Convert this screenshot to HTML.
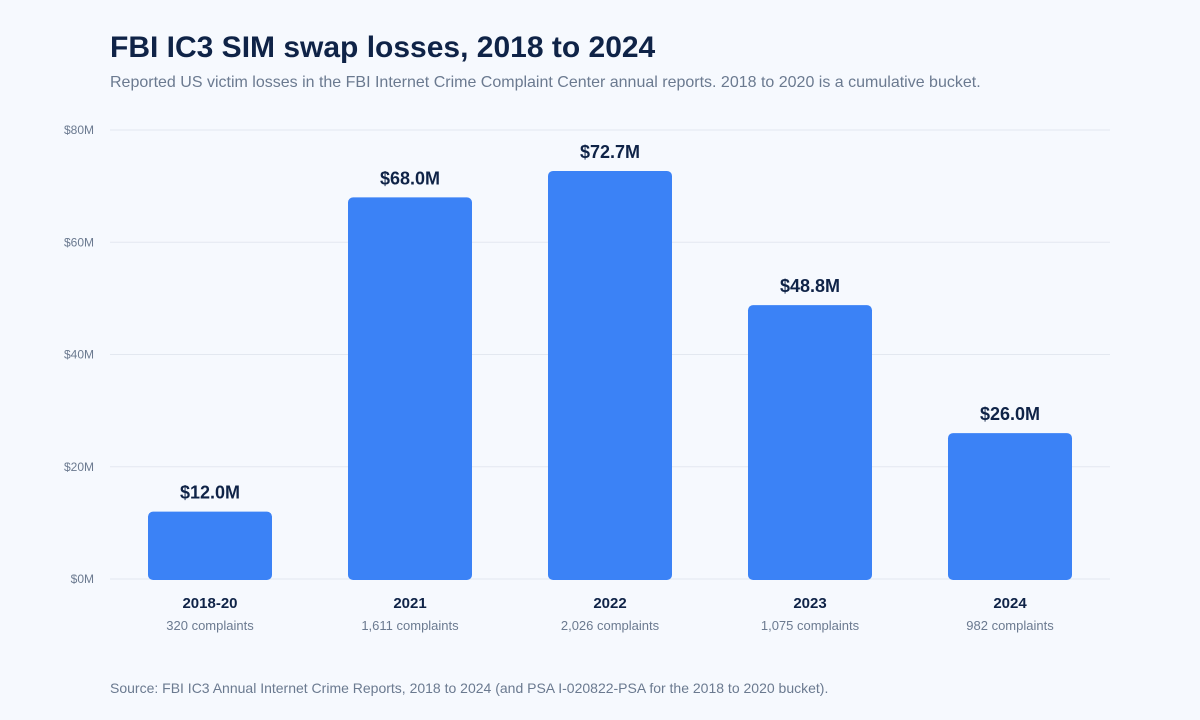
<!DOCTYPE html>
<html><head><meta charset="utf-8"><style>
body{margin:0;background:#f6f9fe;font-family:"Liberation Sans",Arial,sans-serif;}
svg{display:block}
</style></head><body>
<svg width="1200" height="720" xmlns="http://www.w3.org/2000/svg">
<rect width="1200" height="720" fill="#f6f9fe"/>
<text x="110" y="57" font-size="30" font-weight="bold" fill="#0f2347">FBI IC3 SIM swap losses, 2018 to 2024</text>
<text x="110" y="87" font-size="16" fill="#6b7a90">Reported US victim losses in the FBI Internet Crime Complaint Center annual reports. 2018 to 2020 is a cumulative bucket.</text>
<g id="grid"></g><g id="bars"></g>
<text x="110" y="693" font-size="14" fill="#6b7a90">Source: FBI IC3 Annual Internet Crime Reports, 2018 to 2024 (and PSA I-020822-PSA for the 2018 to 2020 bucket).</text>
</svg>
<script>
const categories=["2018-20","2021","2022","2023","2024"];
const losses=[12.0,68.0,72.7,48.8,26.0];
const complaints=["320 complaints","1,611 complaints","2,026 complaints","1,075 complaints","982 complaints"];
const ticks=[0,20,40,60,80];
const NS="http://www.w3.org/2000/svg";
const x0=110,x1=1110,yBase=579,yTop=130,maxV=80;
const y=v=>yBase-(v/maxV)*(yBase-yTop);
const band=(x1-x0)/categories.length;
const bx=i=>x0+band*i+band/2;
function mk(tag,attrs,parent,txt){const e=document.createElementNS(NS,tag);for(const k in attrs)e.setAttribute(k,attrs[k]);if(txt!==undefined)e.textContent=txt;parent.appendChild(e);return e;}
const g=document.getElementById('grid'),b=document.getElementById('bars');
ticks.forEach(t=>{
 const l=mk('line',{x1:x0,x2:x1,y1:y(t),y2:y(t),stroke:'#e3e8f0','stroke-width':1},g);
 
 
 const tx=mk('text',{x:94,y:y(t)+4,'text-anchor':'end','font-size':12,fill:'#6b7a90'},g,'$'+t+'M');
 
 
});
const bw=124;
categories.forEach((c,i)=>{
 const cx=bx(i),top=y(losses[i]);
 const r=mk('rect',{x:cx-bw/2,y:top,width:bw,height:yBase-top+1,rx:5,fill:'#3b82f6'},b);
 
 
 const v=mk('text',{x:cx,y:top-13,'text-anchor':'middle','font-size':18,'font-weight':'bold',fill:'#0f2347'},b,'$'+losses[i].toFixed(1)+'M');
 
 
 const cl=mk('text',{x:cx,y:608,'text-anchor':'middle','font-size':15,'font-weight':'bold',fill:'#0f2347'},b,c);
 
 
 const cc=mk('text',{x:cx,y:630,'text-anchor':'middle','font-size':13,fill:'#6b7a90'},b,complaints[i]);
 
 
});
</script>
</body></html>
